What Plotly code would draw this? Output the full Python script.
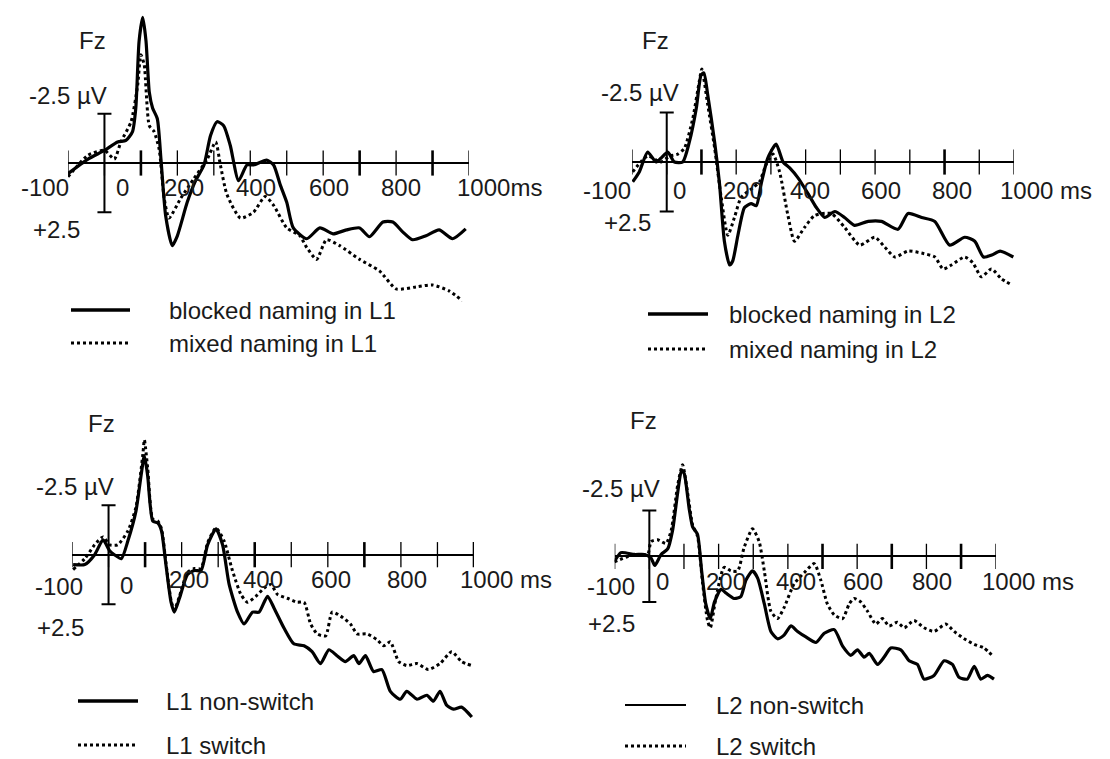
import plotly.graph_objects as go

W, H = 1110, 759

# ---------------- data: time (ms) and amplitude (µV, negative plotted upward) ----------------
t_blk_L1 = [-100, -45, 0, 36, 59, 77, 86, 95, 105, 114, 123, 132, 145, 155, 168, 186, 200, 227, 250, 273,
            291, 309, 327, 345, 368, 391, 409, 445, 464, 482, 500, 518, 555, 591, 627, 664, 700, 727, 764,
            791, 818, 845, 882, 918, 955, 991]
v_blk_L1 = [0.54, -0.2, -0.64, -1.07, -1.15, -1.6, -2.8, -6.2, -7.4, -6.2, -3.6, -2.8, -2.25, -0.2, 2.7, 4.2,
            3.7, 2.0, 0.9, 0.1, -1.4, -2.1, -1.9, -0.9, 0.9, 0.1, 0.1, -0.15, 0.1, 1.1, 2.0, 3.3, 3.85, 3.3,
            3.6, 3.4, 3.3, 3.75, 3.0, 3.0, 3.5, 3.9, 3.7, 3.4, 3.85, 3.35]

t_mix_L1 = [-100, -45, 0, 27, 45, 73, 91, 100, 109, 123, 136, 150, 164, 177, 209, 245, 282, 305, 318, 336,
            373, 409, 441, 464, 500, 536, 555, 582, 609, 645, 700, 755, 800, 855, 900, 945, 982]
v_mix_L1 = [0.7, -0.4, -0.64, -0.2, -1.07, -2.1, -3.95, -5.5, -5.0, -1.9, -1.6, -0.7, 1.8, 2.8, 1.8, 0.8,
            -0.2, -1.07, 0.1, 1.6, 2.8, 2.5, 1.7, 2.15, 3.3, 3.7, 4.3, 4.9, 3.9, 4.2, 4.9, 5.5, 6.4, 6.3,
            6.2, 6.5, 7.0]

t_blk_L2 = [-98, -79, -55, -31, -16, 3, 22, 46, 65, 85, 99, 107, 118, 138, 152, 166, 181, 190, 205, 224,
            243, 258, 272, 291, 315, 335, 354, 378, 407, 431, 455, 484, 512, 541, 580, 618, 666, 695, 734,
            772, 815, 858, 887, 912, 936, 960, 998]
v_blk_L2 = [1.0, 0.5, -0.5, 0, -0.2, -0.5, 0, 0, -1.0, -2.7, -4.4, -4.5, -3.4, -1.0, 1.1, 4.0, 5.2, 5.0,
            3.7, 2.3, 2.1, 2.2, 1.1, -0.2, -0.9, 0, 0.3, 0.8, 1.6, 2.3, 2.8, 2.5, 2.8, 3.2, 3.0, 3.0, 3.4,
            2.6, 2.8, 3.0, 4.2, 3.8, 4.0, 4.8, 4.7, 4.5, 4.8]

t_mix_L2 = [-98, -55, -16, 8, 32, 51, 75, 94, 101, 118, 138, 157, 176, 195, 214, 248, 267, 287, 306, 325,
            349, 368, 397, 426, 474, 512, 556, 599, 628, 657, 695, 734, 772, 796, 820, 858, 882, 906, 935,
            964, 993]
v_mix_L2 = [0.5, -0.3, 0, -0.3, -0.4, -0.7, -2.2, -4.1, -4.7, -2.9, -0.7, 1.8, 3.7, 2.8, 1.8, 1.3, 1.0,
            0.1, -0.4, 0.5, 2.7, 4.0, 3.3, 2.7, 2.6, 3.3, 4.2, 3.8, 4.3, 4.8, 4.5, 4.6, 4.8, 5.4, 5.2, 4.8,
            5.1, 5.8, 5.4, 5.9, 6.2]

t_ns_L1 = [-97, -65, -38, -15, 3, 16, 35, 53, 75, 89, 98, 107, 121, 135, 145, 157, 171, 180, 194, 216,
           235, 253, 271, 294, 312, 330, 353, 371, 394, 412, 435, 453, 480, 507, 535, 557, 580, 603, 625,
           648, 671, 685, 703, 725, 748, 771, 798, 816, 844, 871, 889, 907, 925, 944, 966, 994]
v_ns_L1 = [0.5, 0.5, 0, -0.75, -0.2, 0, 0.2, -0.7, -2.2, -4.0, -5.0, -4.0, -1.7, -1.6, -1.2, 0.5, 2.4,
           2.9, 2.2, 1.0, 0.8, 0.8, -0.5, -1.3, -0.5, 1.5, 2.9, 3.5, 2.9, 2.9, 2.1, 2.7, 3.7, 4.5, 4.6,
           4.9, 5.5, 4.8, 5.1, 5.4, 5.1, 5.5, 5.1, 5.9, 5.8, 6.9, 7.3, 6.9, 7.3, 7.1, 7.4, 6.9, 7.6, 7.8,
           7.7, 8.2]

t_sw_L1 = [-97, -65, -38, -15, 3, 25, 53, 75, 94, 98, 107, 121, 135, 145, 157, 171, 180, 194, 216, 235,
           253, 271, 294, 316, 339, 362, 380, 403, 425, 444, 462, 489, 516, 535, 553, 571, 594, 612, 635,
           662, 680, 707, 735, 753, 771, 794, 816, 844, 875, 907, 939, 966, 994]
v_sw_L1 = [0.75, 0.2, -0.5, -0.9, -0.5, -0.5, -1.2, -2.4, -5.1, -5.8, -4.4, -1.8, -1.7, -1.3, 0.4, 2.3,
           2.8, 2.1, 0.9, 0.7, 0.7, -0.6, -1.35, -0.7, 0.8, 2.0, 2.4, 2.1, 1.7, 1.5, 2.0, 2.2, 2.4, 2.4,
           3.5, 4.0, 4.1, 2.9, 3.1, 3.5, 4.0, 4.0, 4.3, 4.6, 4.4, 5.4, 5.6, 5.5, 5.8, 5.5, 4.9, 5.4, 5.6]

t_ns_L2 = [-101, -82, -43, -14, 5, 16, 34, 53, 67, 82, 93, 101, 115, 125, 139, 151, 163, 176, 188, 207,
           221, 245, 264, 279, 298, 313, 332, 351, 370, 389, 409, 428, 452, 481, 505, 534, 558, 582, 601,
           620, 635, 659, 678, 697, 726, 750, 774, 793, 822, 851, 875, 894, 918, 938, 957, 976, 995]
v_ns_L2 = [0.3, -0.2, -0.1, -0.1, 0.1, 0.5, -0.1, -0.4, -1.4, -3.5, -4.7, -4.5, -2.6, -1.6, -1.2, 0.8,
           2.6, 3.4, 2.5, 1.8, 2.0, 2.3, 2.2, 1.3, 0.8, 1.2, 2.6, 4.1, 4.5, 4.3, 3.8, 4.1, 4.4, 4.7, 4.2,
           4.0, 4.9, 5.4, 5.1, 5.5, 5.3, 5.9, 5.5, 5.0, 5.1, 5.7, 5.9, 6.7, 6.5, 5.7, 5.9, 6.6, 6.7, 6.0,
           6.7, 6.5, 6.7]

t_sw_L2 = [-101, -43, -5, 5, 24, 48, 63, 82, 96, 111, 125, 139, 154, 168, 176, 192, 216, 236, 255, 274,
           298, 317, 332, 351, 370, 389, 418, 447, 476, 495, 514, 534, 558, 577, 591, 611, 630, 654, 673,
           692, 716, 736, 764, 793, 822, 856, 880, 909, 938, 966, 995]
v_sw_L2 = [0.3, -0.1, -0.1, -0.8, -0.9, -0.7, -1.4, -3.9, -5.0, -3.4, -1.7, -1.1, 1.5, 3.5, 3.9, 2.3,
           0.6, 0.8, 0.8, -0.5, -1.5, -0.8, 0.8, 3.0, 3.4, 2.8, 1.5, 0.9, 0.4, 1.3, 2.6, 3.2, 3.4, 2.6,
           2.3, 2.5, 3.0, 3.7, 3.4, 3.8, 3.6, 3.9, 3.5, 3.9, 4.1, 3.7, 4.1, 4.5, 4.8, 5.0, 5.5]

TICK_MS = [-100, 0, 100, 200, 300, 400, 500, 600, 700, 800, 900, 1000]
LABEL_MS = [-100, 0, 200, 400, 600, 800, 1000]
LABELS_A = ["-100", "0", "200", "400", "600", "800", "1000ms"]
LABELS_B = ["-100", "0", "200", "400", "600", "800", "1000 ms"]
SCALE_UV = 2.5

LEGEND_1 = ["blocked naming in L1", "mixed naming in L1"]
LEGEND_2 = ["blocked naming in L2", "mixed naming in L2"]
LEGEND_3 = ["L1 non-switch", "L1 switch"]
LEGEND_4 = ["L2 non-switch", "L2 switch"]

# ---------------- layout geometry (pixels) ----------------
FONT = "Liberation Sans, Arial, sans-serif"
FS = 24
TXT = "#1a1a1a"
THIN, BOLD = 1.3, 2.6

panels = [
    dict(solid=(t_blk_L1, v_blk_L1), dot=(t_mix_L1, v_mix_L1), labels=LABELS_A, legend=LEGEND_1,
         px=(60, 461), py=(0, 310), axis=155, ppu=19.67,
         tickw=[THIN, THIN, BOLD, THIN, THIN, THIN, THIN, THIN, BOLD, THIN, BOLD, THIN],
         shifts=[-23, 18, 7, 6, 6, 5, -14], label_y=[180] * 7,
         fz=(84, 33), neg=(60, 88), pos=(48, 222),
         leg_line=(63, 122), leg_text=160, leg_y=(302, 335), solid_leg_w=3.5),
    dict(solid=(t_blk_L2, v_blk_L2), dot=(t_mix_L2, v_mix_L2), labels=LABELS_B, legend=LEGEND_2,
         px=(624, 1006), py=(0, 310), axis=154, ppu=19.8,
         tickw=[THIN, THIN, BOLD, THIN, THIN, THIN, THIN, THIN, THIN, BOLD, THIN, THIN],
         shifts=[-25, 13, 7, 4, 6, 7, -16], label_y=[182] * 7,
         fz=(647, 32), neg=(632, 84), pos=(619, 214),
         leg_line=(640, 700), leg_text=720, leg_y=(306, 341), solid_leg_w=3.5),
    dict(solid=(t_ns_L1, v_ns_L1), dot=(t_sw_L1, v_sw_L1), labels=LABELS_B, legend=LEGEND_3,
         px=(64, 466), py=(390, 720), axis=546.7, ppu=19.8,
         tickw=[THIN, THIN, BOLD, THIN, THIN, BOLD, THIN, THIN, BOLD, THIN, THIN, BOLD],
         shifts=[-13, 18, 7, 8, 3, 6, -16], label_y=[578, 577, 571, 571, 571, 571, 571],
         fz=(93, 415), neg=(67, 478), pos=(52, 619),
         leg_line=(70, 130), leg_text=157, leg_y=(693, 737), solid_leg_w=3.5),
    dict(solid=(t_ns_L2, v_ns_L2), dot=(t_sw_L2, v_sw_L2), labels=LABELS_B, legend=LEGEND_4,
         px=(606.7, 987.7), py=(390, 720), axis=548.3, ppu=18.33,
         tickw=[THIN, THIN, THIN, THIN, THIN, THIN, BOLD, THIN, BOLD, THIN, BOLD, THIN],
         shifts=[-4, 13, 7, 8, 6, 6, -16], label_y=[578, 573, 573, 573, 573, 573, 573],
         fz=(635, 412), neg=(613, 480), pos=(603, 615),
         leg_line=(617, 678), leg_text=707, leg_y=(697, 738), solid_leg_w=2.2),
]

fig = go.Figure()
annotations = []
shapes = []


def px_x(p):
    return p / W


def px_y(p):
    return 1 - p / H


for i, p in enumerate(panels, start=1):
    xa = "x" if i == 1 else f"x{i}"
    ya = "y" if i == 1 else f"y{i}"
    xkey = "xaxis" if i == 1 else f"xaxis{i}"
    ykey = "yaxis" if i == 1 else f"yaxis{i}"

    x0, x1 = p["px"]
    ytop, ybot = p["py"]
    fig.update_layout({
        xkey: dict(domain=[px_x(x0), px_x(x1)], range=[-100, 1000], visible=False, anchor=ya),
        ykey: dict(domain=[px_y(ybot), px_y(ytop)],
                   range=[(ybot - p["axis"]) / p["ppu"], (ytop - p["axis"]) / p["ppu"]],
                   showgrid=False, showticklabels=False, ticks="", showline=False,
                   zeroline=True, zerolinecolor="black", zerolinewidth=2.2, anchor=xa),
    })

    ts, vs = p["solid"]
    td, vd = p["dot"]
    fig.add_trace(go.Scatter(x=td, y=vd, mode="lines", xaxis=xa, yaxis=ya,
                             line=dict(color="black", width=3, dash="dot", shape="spline", smoothing=0.6)))
    fig.add_trace(go.Scatter(x=ts, y=vs, mode="lines", xaxis=xa, yaxis=ya,
                             line=dict(color="black", width=3.2, shape="spline", smoothing=0.6)))
    # axis ticks
    fig.add_trace(go.Scatter(x=TICK_MS, y=[0] * len(TICK_MS), mode="markers", xaxis=xa, yaxis=ya,
                             marker=dict(symbol="line-ns", size=18, color="black",
                                         line=dict(width=p["tickw"], color="black"))))
    # calibration bar (±2.5 µV at 0 ms)
    fig.add_trace(go.Scatter(x=[0], y=[0], mode="markers", xaxis=xa, yaxis=ya,
                             marker=dict(size=1, color="rgba(0,0,0,0)"),
                             error_y=dict(type="constant", value=SCALE_UV, width=7, thickness=2,
                                          color="black")))

    # time labels
    for j, (ms, txt) in enumerate(zip(LABEL_MS, p["labels"])):
        last = j == len(LABEL_MS) - 1
        annotations.append(dict(x=ms, xref=xa, y=px_y(p["label_y"][j]), yref="paper", text=txt,
                                showarrow=False, xanchor="left" if last else "center",
                                yanchor="middle", xshift=p["shifts"][j],
                                font=dict(family=FONT, size=FS, color=TXT)))
    # panel texts
    for (tx, ty), txt in [(p["fz"], "Fz"), (p["neg"], "-2.5 µV"), (p["pos"], "+2.5")]:
        annotations.append(dict(x=px_x(tx), y=px_y(ty), xref="paper", yref="paper", text=txt,
                                showarrow=False, xanchor="center", yanchor="middle",
                                font=dict(family=FONT, size=FS, color=TXT)))
    # legend
    lx0, lx1 = p["leg_line"]
    for k, (ly, txt) in enumerate(zip(p["leg_y"], p["legend"])):
        shapes.append(dict(type="line", xref="paper", yref="paper",
                           x0=px_x(lx0), x1=px_x(lx1), y0=px_y(ly), y1=px_y(ly),
                           line=dict(color="black", width=p["solid_leg_w"] if k == 0 else 3,
                                     dash="solid" if k == 0 else "dot")))
        annotations.append(dict(x=px_x(p["leg_text"]), y=px_y(ly), xref="paper", yref="paper",
                                text=txt, showarrow=False, xanchor="left", yanchor="middle",
                                borderpad=0,
                                font=dict(family=FONT, size=FS, color=TXT)))

fig.update_layout(width=W, height=H, margin=dict(l=0, r=0, t=0, b=0),
                  paper_bgcolor="white", plot_bgcolor="white", showlegend=False,
                  annotations=annotations, shapes=shapes)

fig.write_html("out.html")
